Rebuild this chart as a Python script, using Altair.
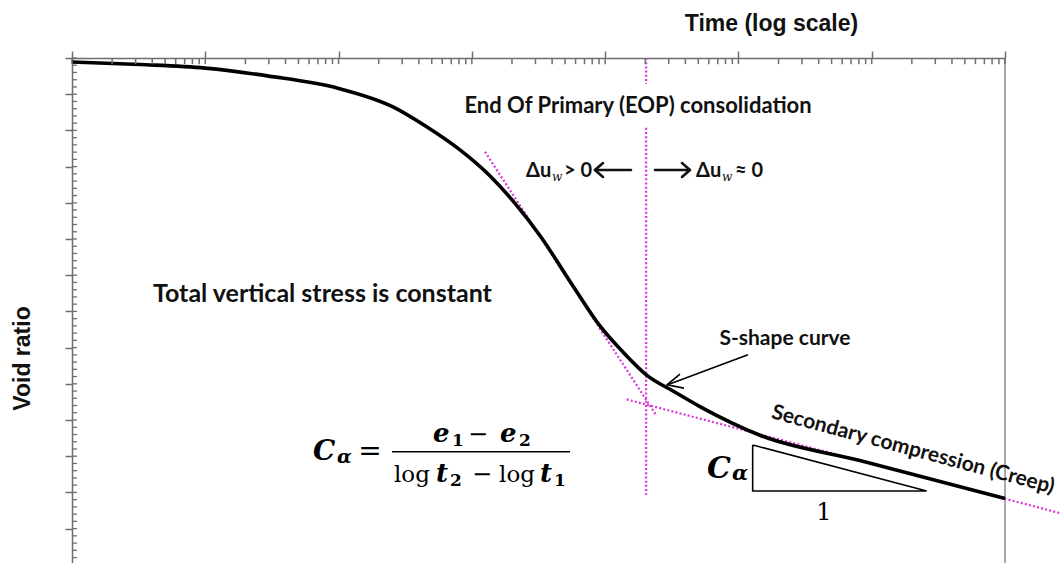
import altair as alt
import pandas as pd

# ---- consolidation curve: elapsed time vs void ratio ----
curve_time = [1, 3.24, 10, 30, 100, 256, 458, 815, 1370, 2100, 3250, 5770,
              9140, 13590, 20480, 32300, 51400, 145000, 815000, 1e7]
curve_void = [1.389, 1.382, 1.372, 1.350, 1.316, 1.265, 1.210, 1.146, 1.074,
              0.999, 0.909, 0.769, 0.660, 0.588, 0.524, 0.480, 0.437, 0.358,
              0.288, 0.183]

# ---- dotted construction lines ----
steep_time = [1255, 24360]
steep_void = [1.141, 0.411]
creep_time = [14510, 2.63e7]
creep_void = [0.457, 0.142]
eop_time = 20300
eop_void_top = [1.400, 1.328]
eop_void_low = [1.207, 0.193]

# ---- slope triangle ----
tri_time = [127900, 127900, 2584000, 127900]
tri_void = [0.331, 0.204, 0.204, 0.331]

# ---- pointer to the curve ----
arrow_time = [117900, 29110]
arrow_void = [0.580, 0.497]
head_time = [36430, 29110, 39040]
head_void = [0.527, 0.497, 0.488]

# ---- pore-pressure arrows either side of EOP ----
left_shaft_time = [8389, 15630]
left_head_time = [9634, 8389, 9634]
right_shaft_time = [23650, 43300]
right_head_time = [37720, 43300, 37720]
arrow_mid_void = 1.0906
head_void_span = [1.1099, 1.0906, 1.0713]

# ---- fraction bar of the formula ----
bar_time = [251.6, 5447]
bar_void = 0.3124

# ---- axis ticks ----
x_major = [10 ** k for k in range(8)]
x_minor = [m * 10 ** k for k in range(7) for m in range(1, 10)] + [10 ** 7]
y_major = [round(0.1 * i, 1) for i in range(1, 15)]
y_minor = [round(0.02 * i, 2) for i in range(1, 71)]
# inward tick extent, in data units from the top and left edges
x_tick_span = [1.4, 1.383]
y_tick_span = [1.0, 1.09]

W, H = 933, 505
AXIS_GRAY = "#6e6e6e"
PINK = "#dd33dd"
SANS = "Lato"
SERIF = "DejaVu Serif"

xs = alt.Scale(type="log", domain=[1, 1e7], nice=False)
ys = alt.Scale(domain=[0.005, 1.4], nice=False, zero=False)

x_axis = alt.Axis(
    orient="top", values=x_major, labels=False, grid=False, tickSize=7,
    tickColor=AXIS_GRAY, domainColor=AXIS_GRAY, domainWidth=1.5, tickWidth=1.5,
    title="Time (log scale)", titleFont="Liberation Sans", titleFontSize=23,
    titleFontWeight="bold", titleColor="#111111", titleX=699, titleY=-35,
    titleAlign="center", titleBaseline="middle")
y_axis = alt.Axis(
    orient="left", values=y_major, labels=False, grid=False, tickSize=7,
    tickColor=AXIS_GRAY, domainColor=AXIS_GRAY, domainWidth=1.5, tickWidth=1.5,
    title="Void ratio", titleFont="Liberation Sans", titleFontSize=23,
    titleFontWeight="bold", titleColor="#111111", titleX=-50, titleY=300,
    titleAlign="center", titleBaseline="middle", titleAngle=270)


def X(field="t"):
    return alt.X(f"{field}:Q", scale=xs, axis=x_axis)


def Y(field="e"):
    return alt.Y(f"{field}:Q", scale=ys, axis=y_axis)


# main curve
curve_df = pd.DataFrame({"t": curve_time, "e": curve_void, "o": range(len(curve_time))})
curve = alt.Chart(curve_df).mark_line(
    color="black", strokeWidth=3.6, interpolate="monotone").encode(
    x=X(), y=Y(), order="o:Q")

# inward ticks along both axes
xtick_df = pd.DataFrame({"t": x_minor, "e": x_tick_span[0], "e2": x_tick_span[1]})
xticks_in = alt.Chart(xtick_df).mark_rule(color=AXIS_GRAY, strokeWidth=1.5).encode(
    x=X(), y=Y(), y2="e2:Q")
ytick_df = pd.DataFrame({"e": y_minor, "t": y_tick_span[0], "t2": y_tick_span[1]})
yticks_in = alt.Chart(ytick_df).mark_rule(color=AXIS_GRAY, strokeWidth=1.3).encode(
    y=Y(), x=X(), x2="t2:Q")

# right-hand frame line
frame_df = pd.DataFrame({"t": [1e7], "e": [1.4], "e2": [0.005]})
frame = alt.Chart(frame_df).mark_rule(color=AXIS_GRAY, strokeWidth=1.2).encode(
    x=X(), y=Y(), y2="e2:Q")

# dotted construction lines
seg_rows = []
for i, (t, e) in enumerate(zip(steep_time, steep_void)):
    seg_rows.append({"g": "steep", "t": t, "e": e, "o": i})
for i, (t, e) in enumerate(zip(creep_time, creep_void)):
    seg_rows.append({"g": "creep", "t": t, "e": e, "o": i})
for i, e in enumerate(eop_void_top):
    seg_rows.append({"g": "eop_top", "t": eop_time, "e": e, "o": i})
for i, e in enumerate(eop_void_low):
    seg_rows.append({"g": "eop_low", "t": eop_time, "e": e, "o": i})
dotted = alt.Chart(pd.DataFrame(seg_rows)).mark_line(
    color=PINK, strokeWidth=2.2, strokeDash=[2, 2.2]).encode(
    x=X(), y=Y(), detail="g:N", order="o:Q")

# slope triangle and pointer arrow
solid_rows = []
for i, (t, e) in enumerate(zip(tri_time, tri_void)):
    solid_rows.append({"g": "tri", "t": t, "e": e, "o": i})
for i, (t, e) in enumerate(zip(arrow_time, arrow_void)):
    solid_rows.append({"g": "shaft", "t": t, "e": e, "o": i})
for i, (t, e) in enumerate(zip(head_time, head_void)):
    solid_rows.append({"g": "head", "t": t, "e": e, "o": i})
solid = alt.Chart(pd.DataFrame(solid_rows)).mark_line(color="black", strokeWidth=1.6).encode(
    x=X(), y=Y(), detail="g:N", order="o:Q")

# bold arrows beside the EOP line
du_rows = []
for i, t in enumerate(left_shaft_time):
    du_rows.append({"g": "ls", "t": t, "e": arrow_mid_void, "o": i})
for i, (t, e) in enumerate(zip(left_head_time, head_void_span)):
    du_rows.append({"g": "lh", "t": t, "e": e, "o": i})
for i, t in enumerate(right_shaft_time):
    du_rows.append({"g": "rs", "t": t, "e": arrow_mid_void, "o": i})
for i, (t, e) in enumerate(zip(right_head_time, head_void_span)):
    du_rows.append({"g": "rh", "t": t, "e": e, "o": i})
du_arrows = alt.Chart(pd.DataFrame(du_rows)).mark_line(
    color="#111111", strokeWidth=2.6, strokeCap="round", strokeJoin="round").encode(
    x=X(), y=Y(), detail="g:N", order="o:Q")

bar_df = pd.DataFrame({"t": [bar_time[0]], "t2": [bar_time[1]], "e": [bar_void]})
frac_bar = alt.Chart(bar_df).mark_rule(color="black", strokeWidth=1.5).encode(
    x=X(), x2="t2:Q", y=Y())


def text_layer(rows, **mark):
    df = pd.DataFrame(rows, columns=["label", "t", "e", "fs"])
    return alt.Chart(df).mark_text(**mark).encode(
        x=X(), y=Y(), text="label:N", size=alt.Size("fs:Q", scale=None))


notes_center = text_layer([
    ["End Of Primary (EOP) consolidation", 17640, 1.2674, 22],
    ["S-shape curve", 223500, 0.6238, 21],
], font=SANS, fontWeight="bold", align="center", baseline="middle", color="#111111")

notes_left = text_layer([
    ["Total vertical stress is constant", 4.053, 0.7481, 25],
], font=SANS, fontWeight="bold", align="left", baseline="middle", color="#111111")

creep_note = text_layer([
    ["Secondary compression (Creep)", 2039000, 0.3171, 21],
], font=SANS, fontWeight="bold", align="center", baseline="middle", angle=15, color="#111111")

du_text = text_layer([
    ["Δu", 2548, 1.0713, 20],
    ["> 0", 4912, 1.0713, 20],
    ["Δu", 48040, 1.0713, 20],
    ["≈ 0", 94220, 1.0713, 20],
], font=SANS, fontWeight="bold", align="left", baseline="alphabetic", color="#111111")

du_sub = text_layer([
    ["w", 3992, 1.0602, 12],
    ["w", 75260, 1.0602, 12],
], font=SERIF, fontStyle="italic", align="left", baseline="alphabetic", color="#111111")

# formula and slope label: bold italic symbols
math_bi = text_layer([
    ["C", 64.3, 0.2895, 28],
    ["α", 97.3, 0.2810, 19],
    ["e", 510.9, 0.3392, 26],
    ["e", 1626, 0.3392, 26],
    ["t", 538.2, 0.2287, 26],
    ["t", 3244, 0.2287, 26],
    ["C", 58080, 0.2398, 30],
    ["α", 89440, 0.2350, 21],
], font=SERIF, fontWeight="bold", fontStyle="italic", align="left", baseline="alphabetic", color="black")

# subscript digits
math_sub = text_layer([
    ["1", 709.5, 0.3282, 17],
    ["2", 2258, 0.3282, 17],
    ["2", 685.5, 0.2177, 17],
    ["1", 4133, 0.2177, 17],
], font=SERIF, fontWeight="bold", align="left", baseline="alphabetic", color="black")

math_upright = text_layer([
    ["=", 172.1, 0.2895, 28],
    ["−", 1112, 0.3392, 24],
    ["log", 355.4, 0.2287, 23],
    ["−", 1191, 0.2287, 24],
    ["log", 2181, 0.2287, 23],
    ["1", 438300, 0.1238, 24],
], font=SERIF, align="center", baseline="alphabetic", color="black")

chart = alt.layer(
    frame, dotted, curve, solid, du_arrows, frac_bar,
    notes_center, notes_left, creep_note, du_text, du_sub,
    math_bi, math_sub, math_upright, xticks_in, yticks_in,
).properties(
    width=W, height=H,
    padding={"left": 72, "top": 58, "right": 56, "bottom": 0},
    autosize=alt.AutoSizeParams(type="none"),
    background="white",
).configure_view(stroke=None)

chart.save("out.html", embed_options={"renderer": "svg", "actions": False})
